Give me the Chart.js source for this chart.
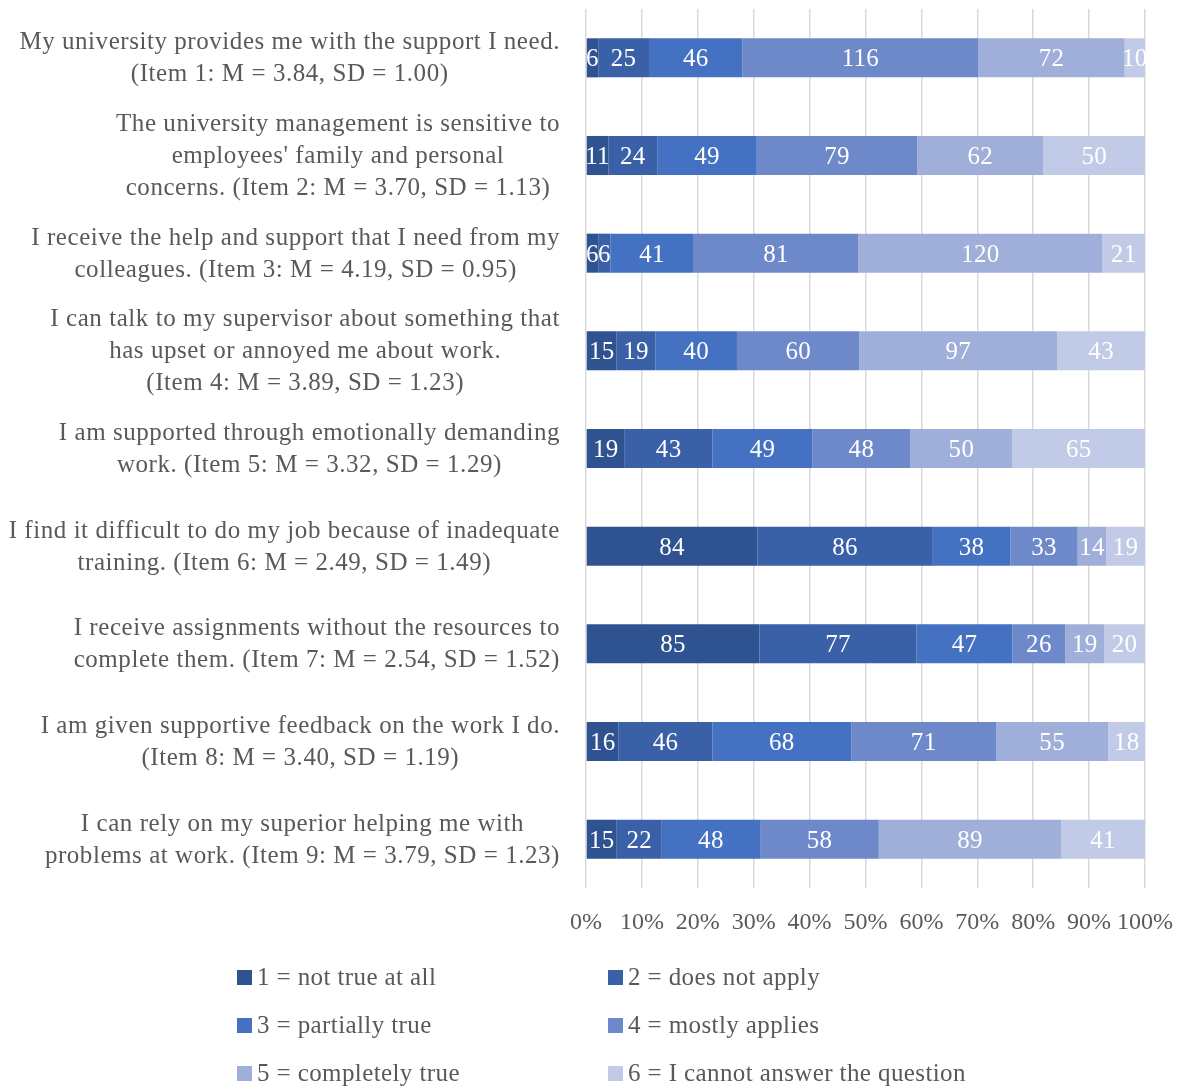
<!DOCTYPE html>
<html>
<head>
<meta charset="utf-8">
<script src="https://cdn.jsdelivr.net/npm/chart.js@4"></script>
<style>
  body { margin: 0; background: #fff; }
  #wrap { width: 1181px; height: 1090px; }
</style>
</head>
<body>
<div id="wrap"><canvas id="supportChart" width="1181" height="1090"></canvas></div>
<script>
// item labels (each line of the label is one entry)
var itemLabels = [
    ["My university provides me with the support I need.", "(Item 1: M = 3.84, SD = 1.00)"],
    ["The university management is sensitive to", "employees' family and personal", "concerns. (Item 2: M = 3.70, SD = 1.13)"],
    ["I receive the help and support that I need from my", "colleagues. (Item 3: M = 4.19, SD = 0.95)"],
    ["I can talk to my supervisor about something that", "has upset or annoyed me about work.", "(Item 4: M = 3.89, SD = 1.23)"],
    ["I am supported through emotionally demanding", "work. (Item 5: M = 3.32, SD = 1.29)"],
    ["I find it difficult to do my job because of inadequate", "training. (Item 6: M = 2.49, SD = 1.49)"],
    ["I receive assignments without the resources to", "complete them. (Item 7: M = 2.54, SD = 1.52)"],
    ["I am given supportive feedback on the work I do.", "(Item 8: M = 3.40, SD = 1.19)"],
    ["I can rely on my superior helping me with", "problems at work. (Item 9: M = 3.79, SD = 1.23)"]
];

var answerLabels = [
    "1 = not true at all",
    "2 = does not apply",
    "3 = partially true",
    "4 = mostly applies",
    "5 = completely true",
    "6 = I cannot answer the question"
];

// counts per answer, one value per item
var notTrue      = [6, 11, 6, 15, 19, 84, 85, 16, 15];
var doesNotApply = [25, 24, 6, 19, 43, 86, 77, 46, 22];
var partTrue     = [46, 49, 41, 40, 49, 38, 47, 68, 48];
var mostly       = [116, 79, 81, 60, 48, 33, 26, 71, 58];
var completely   = [72, 62, 120, 97, 50, 14, 19, 55, 89];
var cannotAnswer = [10, 50, 21, 43, 65, 19, 20, 18, 41];

var percentTicks = [0, 10, 20, 30, 40, 50, 60, 70, 80, 90, 100];

var colors = ['#2F5290', '#3A60A8', '#4471C1', '#6E89CA', '#A0AFD9', '#C1CAE6'];
var textColor = '#595959';
var fontFamily = '"Liberation Serif", serif';

var counts = [notTrue, doesNotApply, partTrue, mostly, completely, cannotAnswer];
var totals = itemLabels.map(function(l, i) {
    return counts.reduce(function(s, arr) { return s + arr[i]; }, 0);
});

var datasets = counts.map(function(arr, k) {
    return {
        label: answerLabels[k],
        backgroundColor: colors[k],
        data: arr.map(function(v, i) { return v / totals[i] * 100; }),
        counts: arr,
        categoryPercentage: 1,
        barPercentage: 0.4
    };
});

// white count labels inside the segments
var countLabels = {
    id: 'countLabels',
    afterDatasetsDraw: function(chart) {
        var ctx = chart.ctx;
        ctx.save();
        ctx.font = '25px ' + fontFamily;
        ctx.letterSpacing = '0.3px';
        ctx.fillStyle = '#ffffff';
        ctx.textAlign = 'center';
        ctx.textBaseline = 'middle';
        chart.data.datasets.forEach(function(ds, k) {
            var meta = chart.getDatasetMeta(k);
            meta.data.forEach(function(bar, i) {
                var cx = (bar.x + bar.base) / 2;
                ctx.fillText(String(ds.counts[i]), cx, bar.y + 2);
            });
        });
        ctx.restore();
    }
};

// multi-line item labels, each block right-aligned with centred lines
var itemText = {
    id: 'itemText',
    afterDraw: function(chart) {
        var ctx = chart.ctx;
        var yScale = chart.scales.y;
        var rightEdge = 560;
        var lineH = 32;
        ctx.save();
        ctx.font = '25px ' + fontFamily;
        ctx.letterSpacing = '0.55px';
        ctx.fillStyle = textColor;
        ctx.textAlign = 'center';
        ctx.textBaseline = 'middle';
        itemLabels.forEach(function(lines, i) {
            var y = yScale.getPixelForValue(i);
            var widest = Math.max.apply(null, lines.map(function(l) { return ctx.measureText(l).width; }));
            var cx = rightEdge - widest / 2;
            var y0 = y - (lines.length - 1) * lineH / 2;
            lines.forEach(function(l, j) {
                ctx.fillText(l, cx, y0 + j * lineH + 1);
            });
        });
        ctx.restore();
    }
};

// two-column legend under the axis
var legendGrid = {
    id: 'legendGrid',
    afterDraw: function(chart) {
        var ctx = chart.ctx;
        var colX = [237, 608];
        var rowY = [977, 1025, 1073];
        ctx.save();
        ctx.font = '25px ' + fontFamily;
        ctx.letterSpacing = '0.4px';
        ctx.textAlign = 'left';
        ctx.textBaseline = 'middle';
        chart.data.datasets.forEach(function(ds, k) {
            var x = colX[k % 2];
            var y = rowY[Math.floor(k / 2)];
            ctx.fillStyle = ds.backgroundColor;
            ctx.fillRect(x, y - 7, 15, 15);
            ctx.fillStyle = textColor;
            ctx.fillText(ds.label, x + 20, y + 1);
        });
        ctx.restore();
    }
};

var ctx = document.getElementById('supportChart').getContext('2d');
window.myBar = new Chart(ctx, {
    type: 'bar',
    data: {
        labels: itemLabels.map(function(l) { return l.join(' '); }),
        datasets: datasets
    },
    options: {
        indexAxis: 'y',
        responsive: false,
        animation: false,
        layout: { padding: { top: 9, right: 36, left: 0, bottom: 0 } },
        plugins: {
            legend: { display: false },
            tooltip: { enabled: false }
        },
        scales: {
            x: {
                stacked: true,
                min: 0,
                max: 100,
                afterBuildTicks: function(scale) {
                    scale.ticks = percentTicks.map(function(v) { return { value: v }; });
                },
                afterFit: function(scale) {
                    scale.height = 202;
                    scale.paddingRight = 0;
                    scale.paddingLeft = 0;
                },
                grid: { color: '#D9D9D9', lineWidth: 1.5, drawTicks: false },
                border: { display: false },
                ticks: {
                    padding: 20,
                    maxRotation: 0,
                    minRotation: 0,
                    autoSkip: false,
                    color: textColor,
                    font: { family: fontFamily, size: 24 },
                    callback: function(v) { return v + '%'; }
                }
            },
            y: {
                stacked: true,
                afterFit: function(scale) { scale.width = 586; },
                grid: { display: false },
                border: { display: false },
                ticks: { display: false }
            }
        }
    },
    plugins: [countLabels, itemText, legendGrid]
});
</script>
</body>
</html>
